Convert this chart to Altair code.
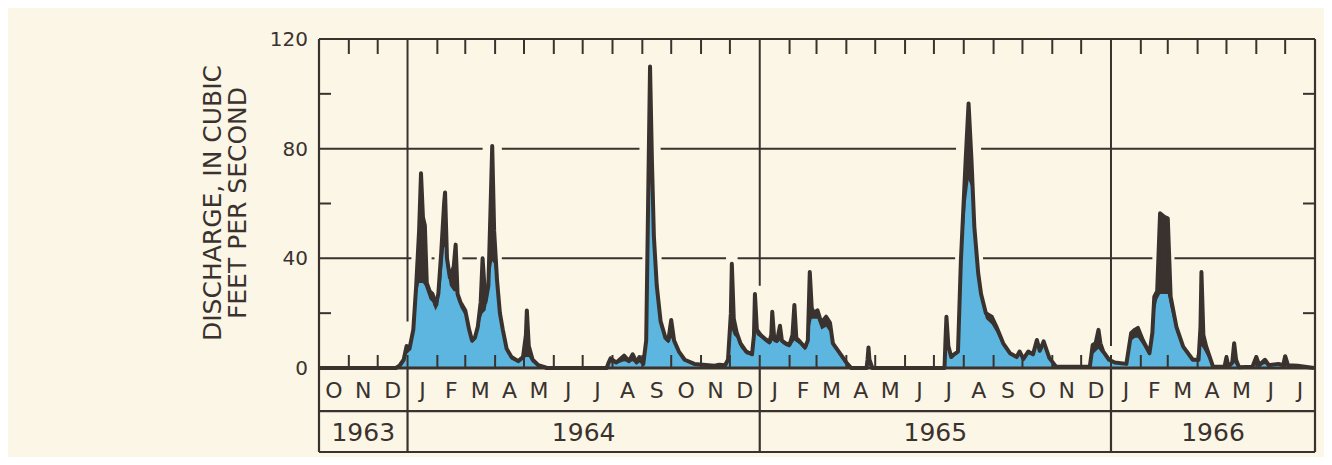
import altair as alt
import numpy as np
import pandas as pd

dates = [
    "1963-10-01", "1963-12-20", "1963-12-24", "1963-12-28", "1963-12-31",
    "1964-01-03", "1964-01-07", "1964-01-10", "1964-01-13", "1964-01-15", "1964-01-17",
    "1964-01-19", "1964-01-21", "1964-01-24", "1964-01-27", "1964-01-30", "1964-02-02",
    "1964-02-05", "1964-02-08", "1964-02-09", "1964-02-11", "1964-02-14", "1964-02-18",
    "1964-02-20", "1964-02-22", "1964-02-25", "1964-03-01", "1964-03-05", "1964-03-08",
    "1964-03-11", "1964-03-14", "1964-03-17", "1964-03-19", "1964-03-22", "1964-03-25",
    "1964-03-27", "1964-03-29", "1964-03-31", "1964-04-03", "1964-04-06", "1964-04-09",
    "1964-04-13", "1964-04-18", "1964-04-25", "1964-04-30", "1964-05-03", "1964-05-04",
    "1964-05-06", "1964-05-10", "1964-05-16", "1964-05-25",
    "1964-07-26", "1964-07-28", "1964-07-30", "1964-08-05", "1964-08-13", "1964-08-18",
    "1964-08-22", "1964-08-26", "1964-08-29", "1964-09-02", "1964-09-05", "1964-09-07",
    "1964-09-09", "1964-09-11", "1964-09-13", "1964-09-16", "1964-09-20", "1964-09-25",
    "1964-09-28", "1964-10-01", "1964-10-04", "1964-10-09", "1964-10-15", "1964-10-25",
    "1964-11-15", "1964-11-20", "1964-11-26", "1964-11-29", "1964-12-02", "1964-12-03",
    "1964-12-05", "1964-12-08", "1964-12-12", "1964-12-18", "1964-12-24", "1964-12-26",
    "1964-12-27", "1964-12-29", "1965-01-02", "1965-01-07", "1965-01-11", "1965-01-13",
    "1965-01-14", "1965-01-16", "1965-01-19", "1965-01-22", "1965-01-24", "1965-01-28",
    "1965-02-01", "1965-02-04", "1965-02-06", "1965-02-08", "1965-02-12", "1965-02-17",
    "1965-02-20", "1965-02-22", "1965-02-24", "1965-02-26", "1965-03-02", "1965-03-06",
    "1965-03-11", "1965-03-15", "1965-03-18", "1965-03-25", "1965-04-01", "1965-04-06",
    "1965-04-22", "1965-04-23", "1965-04-24", "1965-04-25", "1965-04-26", "1965-04-28",
    "1965-07-12", "1965-07-13", "1965-07-14", "1965-07-16", "1965-07-19", "1965-07-22",
    "1965-07-26", "1965-07-29", "1965-08-03", "1965-08-06", "1965-08-09", "1965-08-12",
    "1965-08-16", "1965-08-19", "1965-08-24", "1965-08-30", "1965-09-04", "1965-09-11",
    "1965-09-18", "1965-09-25", "1965-09-28", "1965-10-02", "1965-10-07", "1965-10-12",
    "1965-10-16", "1965-10-19", "1965-10-23", "1965-10-29", "1965-11-05", "1965-12-10",
    "1965-12-13", "1965-12-16", "1965-12-19", "1965-12-21", "1965-12-24", "1965-12-30",
    "1966-01-05", "1966-01-17", "1966-01-22", "1966-01-26", "1966-01-29", "1966-02-03",
    "1966-02-10", "1966-02-13", "1966-02-15", "1966-02-18", "1966-02-21", "1966-02-26",
    "1966-03-01", "1966-03-04", "1966-03-10", "1966-03-17", "1966-03-27", "1966-04-02",
    "1966-04-04", "1966-04-05", "1966-04-07", "1966-04-10", "1966-04-17", "1966-04-29",
    "1966-05-01", "1966-05-03", "1966-05-07", "1966-05-09", "1966-05-11", "1966-05-14",
    "1966-05-28", "1966-06-01", "1966-06-04", "1966-06-10", "1966-06-14", "1966-06-24",
    "1966-06-29", "1966-07-01", "1966-07-04", "1966-07-14", "1966-07-31",
]
# upper (dark) envelope, cubic feet per second
q_max = [
    0, 0, 1, 3, 8,
    7, 14, 30, 50, 71, 55,
    52, 31, 28, 27, 23, 27,
    42, 60, 64, 40, 33, 37,
    45, 27, 24, 21, 14, 10,
    11, 15, 24, 40, 24, 30,
    55, 81, 50, 32, 20, 14,
    7, 4, 2.5, 4, 12, 21,
    8, 3, 1, 0,
    0, 2, 3.5, 2, 4.5, 2.5,
    5, 2, 4, 1.5, 10, 60,
    110, 75, 48, 30, 17, 11,
    10, 17.5, 10, 6, 3, 1.5,
    0.8, 1.2, 1, 3, 20, 38,
    18, 13, 9, 6, 5, 12,
    27, 14, 12, 10.5, 9.5, 12,
    20.5, 11, 10, 15.4, 10, 9,
    8.5, 12, 23, 11, 9.5, 7.5,
    10, 35, 22, 20, 21, 16.5,
    18.7, 16.5, 9, 5.5, 2, 0,
    0, 3, 7.5, 3, 2, 0,
    0, 10, 18.7, 8, 4, 5,
    6, 39, 76, 96.5, 76, 51.5,
    34.6, 27, 20, 18.7, 15, 9,
    5.4, 4, 6, 3.3, 6, 5,
    10.2, 6.3, 9.7, 3.6, 0.5, 0.5,
    8.4, 9, 13.9, 9, 6, 3,
    2, 1.5, 12.8, 14, 14.6, 10.2,
    5.4, 12.8, 26, 28, 56.4, 55,
    54.6, 26, 15, 7.8, 3, 3,
    15, 35, 12, 7.8, 0.5, 0.5,
    4, 0.5, 2, 9, 3, 0.3,
    0.5, 4, 1, 3, 1, 1.5,
    1, 4.3, 1, 0.8, 0,
]
# inner (blue) series, cubic feet per second
q_mean = [
    0, 0, 0.8, 2.5, 5,
    6, 12, 26, 31, 31, 31,
    30, 28, 25, 24, 21, 23,
    32, 44, 44, 36, 30, 28,
    28, 25, 22, 19, 12, 9,
    10, 13, 18, 20, 21, 27,
    35, 39, 38, 30, 18, 12,
    6, 3, 2, 3, 4, 4,
    4, 2, 0.8, 0,
    0, 1.5, 2, 1.5, 2.5, 2,
    2.5, 1.5, 2, 1, 8, 50,
    72, 68, 45, 27, 15, 10,
    9, 11, 9, 5, 2.5, 1,
    0.5, 1, 0.8, 2.5, 12, 14,
    12, 11, 7.5, 5, 4.5, 10,
    14, 12, 11, 9.5, 8.5, 9,
    10, 9.5, 9, 10, 9, 8,
    7.5, 9, 10, 9.5, 8.5, 6.5,
    8, 15, 18, 18, 18, 14,
    15, 13, 8, 5, 1.5, 0,
    0, 1, 1.5, 1, 0.5, 0,
    0, 5, 8, 6, 3.5, 4.5,
    5.5, 36, 60, 68.6, 66, 48,
    32, 25, 18, 16, 13, 8,
    5, 3.5, 5, 3, 5, 4.5,
    8, 5.5, 8, 3, 0.4, 0.4,
    5, 6, 7, 6, 5, 2.5,
    1.7, 1.3, 10, 11, 11, 8.5,
    4.5, 10, 20, 25, 27, 27,
    27, 22, 13, 7, 2.5, 2.5,
    7, 8, 7, 5, 0.4, 0.3,
    1, 0.3, 1, 2, 1, 0.2,
    0.3, 1.5, 0.8, 1.5, 0.5, 1,
    0.8, 1.5, 0.5, 0.5, 0,
]
month_letters = list("OND" + "JFMAMJJASOND" * 2 + "JFMAMJJ")
year_labels = ["1963", "1964", "1965", "1966"]
y_tick_labels = [0, 40, 80, 120]
minor_y_ticks = [20, 60, 100]
grid_values = [40, 80]
y_title = "DISCHARGE, IN CUBIC\nFEET PER SECOND"

# ---------------- layout / style constants ----------------
BG = "#fcf6e6"
DARK = "#3a322e"
BLUE = "#5cb6df"
FONT = "DejaVu Sans"
W, H = 996, 413
YMIN, YMAX = -30.64, 120          # negative part holds the label rows
ROW_MID = -15.7
ZERO_PX = H * YMAX / (YMAX - YMIN)

start = pd.Timestamp("1963-10-01")
end = pd.Timestamp("1966-08-01")
NDAYS = (end - start).days


def dday(d):
    return (pd.Timestamp(d) - start).days


xs = np.array([dday(d) for d in dates], dtype=float)
df = pd.DataFrame({"day": xs, "qmax": q_max, "qmean": q_mean})

X = lambda f: alt.X(f, type="quantitative", scale=alt.Scale(domain=[0, NDAYS], nice=False, zero=False), axis=None)
Y = lambda f: alt.Y(f, type="quantitative", scale=alt.Scale(domain=[YMIN, YMAX], nice=False, zero=False), axis=None)

# month boundaries and centres
bounds = pd.date_range(start, end, freq="MS")
bdays = [dday(b) for b in bounds]
mids = [(bdays[i] + bdays[i + 1]) / 2 for i in range(len(bdays) - 1)]
months_df = pd.DataFrame({"x": mids, "y": ROW_MID / 2, "t": month_letters})
inner_bounds = [b for b in bdays[1:-1]]
year_starts = [dday(f"{y}-01-01") for y in (1964, 1965, 1966)]
month_ticks = pd.DataFrame({"x": [b for b in inner_bounds if b not in year_starts]})
all_ticks = pd.DataFrame({"x": inner_bounds})

yb = [0] + year_starts + [NDAYS]
years_df = pd.DataFrame({"x": [(yb[i] + yb[i + 1]) / 2 for i in range(4)],
                         "y": (ROW_MID + YMIN) / 2, "t": year_labels})

# gridlines broken where the hydrograph passes through them
days_all = np.arange(0, NDAYS + 1)
qi = np.interp(days_all, xs, q_max)
segs = []
for g, pad in zip(grid_values, [5, 9]):
    blocked = qi >= g - 4
    b = blocked.copy()
    for i in np.where(blocked)[0]:
        b[max(0, i - pad): i + pad + 1] = True
    i = 0
    while i < len(b):
        if not b[i]:
            j = i
            while j + 1 < len(b) and not b[j + 1]:
                j += 1
            segs.append({"x": int(days_all[i]), "x2": int(days_all[j]), "y": g})
            i = j + 1
        else:
            i += 1
grid_df = pd.DataFrame(segs)

# year lines: from top down to just above the curve, and through the label rows
yl_top = []
for ys in year_starts:
    lo, hi = max(0, ys - 6), ys + 7
    yl_top.append({"x": ys, "y": YMAX, "y2": float(qi[lo:hi].max()) + 3})
yl_top = pd.DataFrame(yl_top)
yl_rows = pd.DataFrame({"x": year_starts, "y": 0, "y2": YMIN})

# frame
hlines = pd.DataFrame({"y": [YMAX, ROW_MID, YMIN], "x": 0, "x2": NDAYS})
vlines = pd.DataFrame({"x": [0, NDAYS], "y": YMIN, "y2": YMAX})

# ---------------- layers ----------------
ylab = alt.Chart(pd.DataFrame({"v": y_tick_labels, "t": [str(v) for v in y_tick_labels]})).mark_text(
    font=FONT, fontSize=20, color=DARK, align="right", baseline="middle", dy=1).encode(
    x=alt.value(-11), y=Y("v"), text="t:N")

grid = alt.Chart(grid_df).mark_rule(color=DARK, strokeWidth=2).encode(x=X("x"), x2="x2", y=Y("y"))
ylines = alt.Chart(yl_top).mark_rule(color=DARK, strokeWidth=2).encode(x=X("x"), y=Y("y"), y2="y2")
ylines2 = alt.Chart(yl_rows).mark_rule(color=DARK, strokeWidth=2.2).encode(x=X("x"), y=Y("y"), y2="y2")

dark_area = alt.Chart(df).mark_area(color=DARK, opacity=1, interpolate="linear").encode(
    x=X("day"), y=Y("qmax"), y2=alt.datum(0))
blue_area = alt.Chart(df).mark_area(color=BLUE, opacity=1, interpolate="linear").encode(
    x=X("day"), y=Y("qmean"), y2=alt.datum(0))
max_line = alt.Chart(df).mark_line(color=DARK, strokeWidth=4, strokeJoin="round", interpolate="linear").encode(
    x=X("day"), y=Y("qmax"))

top_ticks = alt.Chart(month_ticks).mark_rule(color=DARK, strokeWidth=2).encode(
    x=X("x"), y=alt.value(0), y2=alt.value(15))
bot_ticks = alt.Chart(all_ticks).mark_rule(color=DARK, strokeWidth=2).encode(
    x=X("x"), y=alt.value(ZERO_PX - 13), y2=alt.value(ZERO_PX))
ydf = pd.DataFrame({"y": minor_y_ticks})
left_ticks = alt.Chart(ydf).mark_rule(color=DARK, strokeWidth=2).encode(
    y=Y("y"), x=alt.value(0), x2=alt.value(12))
right_ticks = alt.Chart(ydf).mark_rule(color=DARK, strokeWidth=2).encode(
    y=Y("y"), x=alt.value(W - 12), x2=alt.value(W))

zero_line = alt.Chart(pd.DataFrame({"y": [0], "x": [0], "x2": [NDAYS]})).mark_rule(
    color=DARK, strokeWidth=3).encode(x=X("x"), x2="x2", y=Y("y"))
frame_h = alt.Chart(hlines).mark_rule(color=DARK, strokeWidth=2.2).encode(x=X("x"), x2="x2", y=Y("y"))
frame_v = alt.Chart(vlines).mark_rule(color=DARK, strokeWidth=2.2).encode(x=X("x"), y=Y("y"), y2="y2")

month_text = alt.Chart(months_df).mark_text(font=FONT, fontSize=22, color=DARK, baseline="middle",
                                            align="center", dy=1).encode(
    x=X("x"), y=Y("y"), text="t:N")
year_text = alt.Chart(years_df).mark_text(font=FONT, fontSize=25, color=DARK, baseline="middle",
                                          align="center", dy=1).encode(
    x=X("x"), y=Y("y"), text="t:N")

title_text = alt.Chart(pd.DataFrame({"t": [y_title]})).mark_text(
    font=FONT, fontSize=25, color=DARK, angle=270, align="center", baseline="middle",
    lineBreak="\n", lineHeight=25).encode(
    x=alt.value(-106), y=alt.value(164), text="t:N")

chart = alt.layer(
    grid, ylines, ylines2, dark_area, blue_area, max_line,
    top_ticks, bot_ticks, left_ticks, right_ticks, zero_line, frame_h, frame_v,
    month_text, year_text, ylab, title_text,
).properties(
    width=W, height=H,
    autosize=alt.AutoSizeParams(type="none"),
    padding={"left": 311, "top": 31, "right": 9, "bottom": 5},
).configure(background=BG).configure_view(stroke=None)

chart.save("out.html", embed_options={"renderer": "svg", "actions": False})
